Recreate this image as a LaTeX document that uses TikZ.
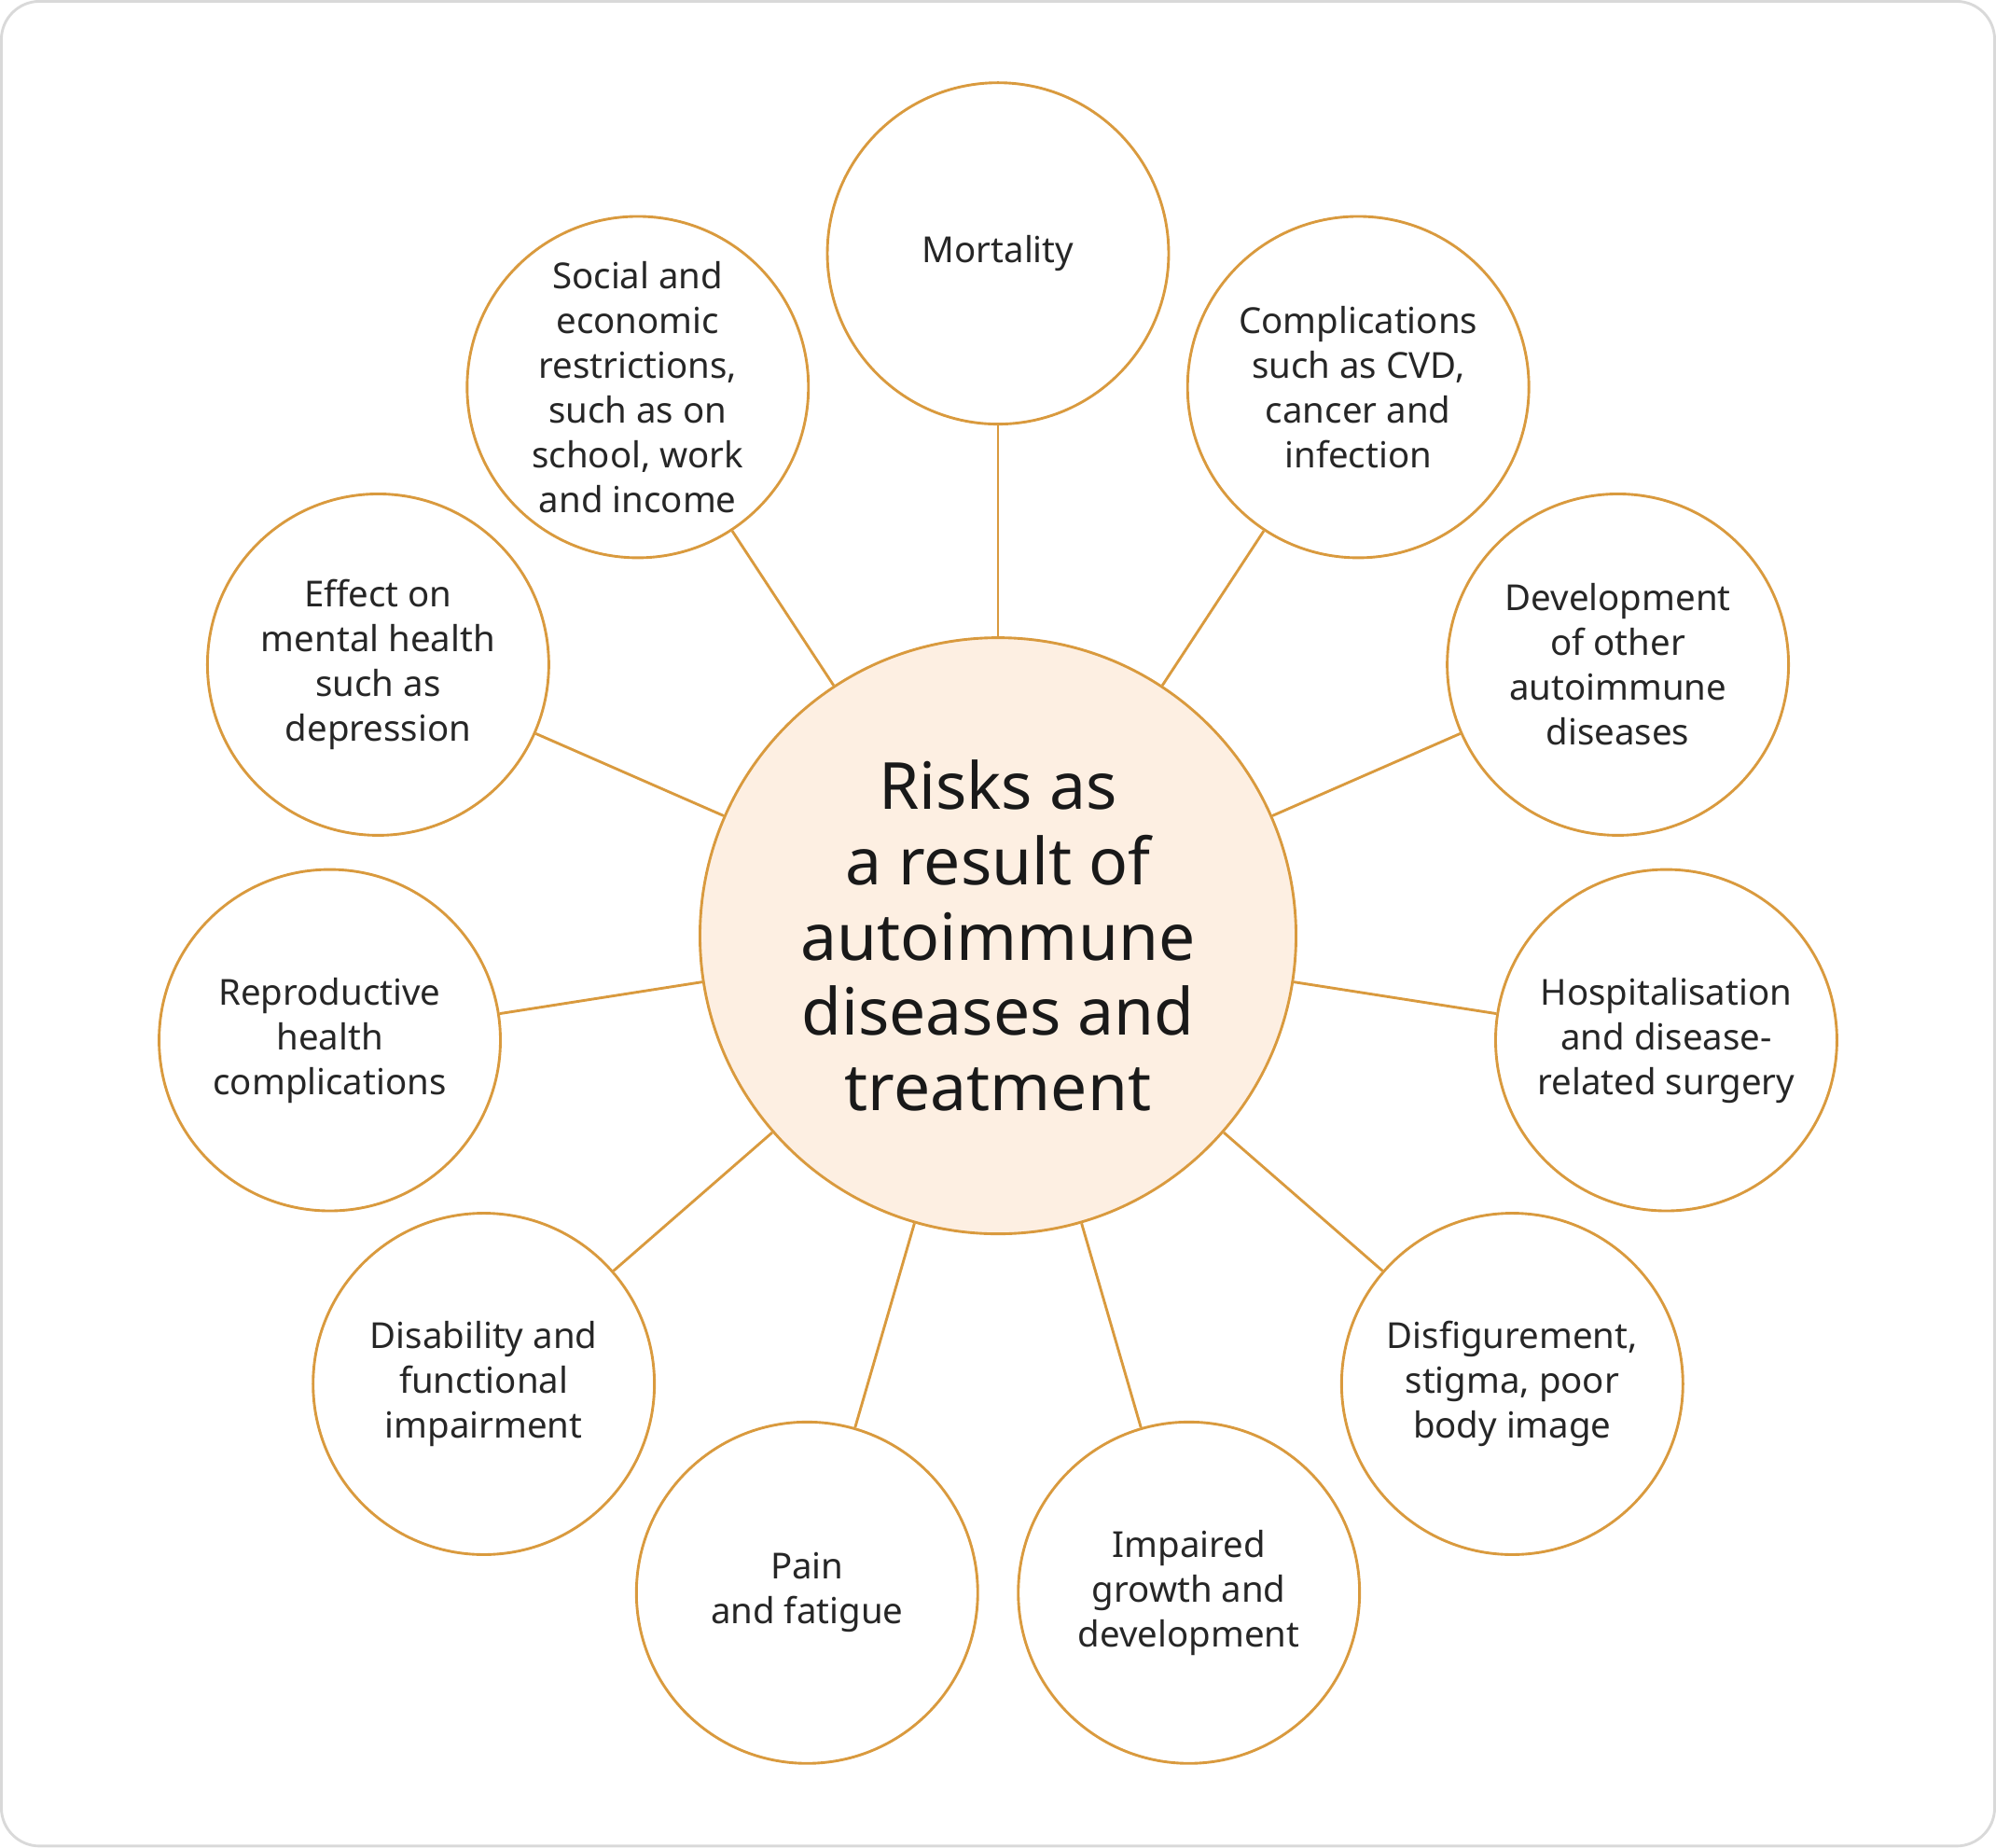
\documentclass[tikz,border=0pt]{standalone}
\usepackage{fontspec}
\setmainfont{Noto Sans}
\usetikzlibrary{positioning}
\definecolor{ringor}{HTML}{D99A3E}
\definecolor{corefill}{HTML}{FDEFE2}
\begin{document}
\begin{tikzpicture}[x=0.01cm, y=-0.01cm,
        satnode/.style={circle, draw=ringor, line width=0.6pt, minimum size=2.68cm, inner sep=0pt, align=center,
                        font=\fontsize{8}{10}\selectfont\bfseries, text=black!85},
        corenode/.style={circle, draw=ringor, fill=corefill, line width=0.6pt, minimum size=4.68cm, inner sep=0pt,
                         align=center, font=\fontsize{14.5}{16.8}\selectfont\bfseries, text=black!90},
        spoke/.style={draw=ringor, line width=0.6pt}]
        \draw[draw=black!15, line width=0.6pt, rounded corners=0.3cm] (1,1) rectangle (1567,1450);
        \draw (784,735) node[corenode] (core) {Risks as\\a result of\\autoimmune\\diseases and\\treatment}
              (784,199) node[satnode] (mort) {Mortality}
              (501,304) node[satnode] (soc) {Social and\\economic\\restrictions,\\such as on\\school, work\\and income}
              (1067,304) node[satnode] (comp) {Complications\\such as CVD,\\cancer and\\infection}
              (297,522) node[satnode] (ment) {Effect on\\mental health\\such as\\depression}
              (1271,522) node[satnode] (devel) {Development\\of other\\autoimmune\\diseases}
              (259,817) node[satnode] (repro) {Reproductive\\health\\complications}
              (1309,817) node[satnode] (hosp) {Hospitalisation\\and disease-\\related surgery}
              (380,1087) node[satnode] (disab) {Disability and\\functional\\impairment}
              (1188,1087) node[satnode] (disf) {Disfigurement,\\stigma, poor\\body image}
              (634,1251) node[satnode] (pain) {Pain\\and fatigue}
              (934,1251) node[satnode] (growth) {Impaired\\growth and\\development};
        \foreach \sat in {mort, soc, comp, ment, devel, repro, hosp, disab, disf, pain, growth}
            \draw[spoke] (core) -- (\sat);
    \end{tikzpicture}
\end{document}
